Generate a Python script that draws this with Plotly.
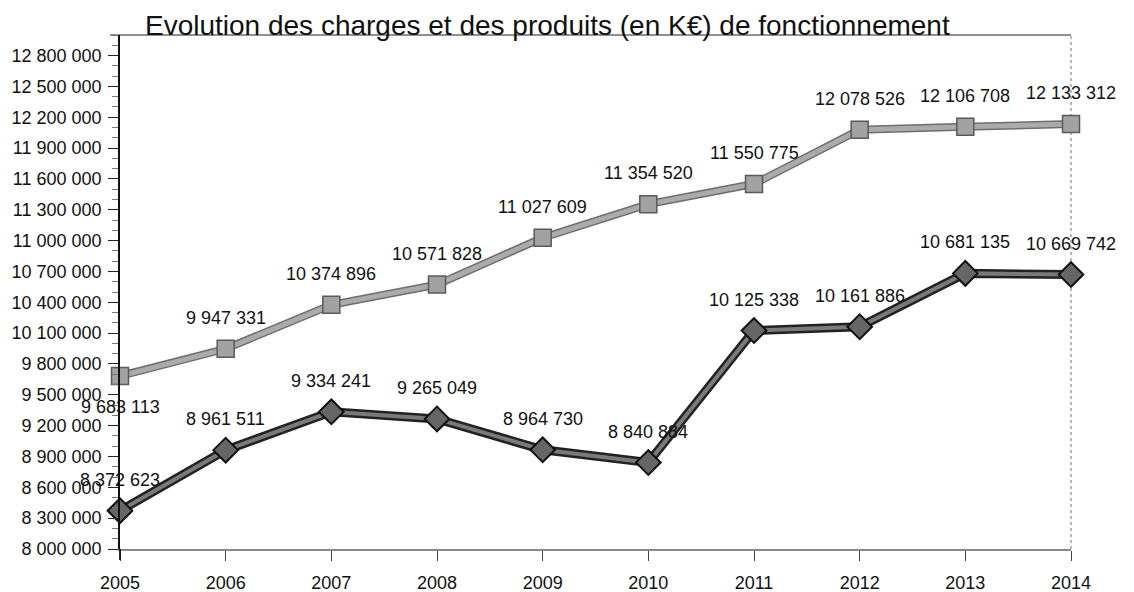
import plotly.graph_objects as go

years = [2005, 2006, 2007, 2008, 2009, 2010, 2011, 2012, 2013, 2014]
produits = [9683113, 9947331, 10374896, 10571828, 11027609, 11354520, 11550775, 12078526, 12106708, 12133312]
charges = [8372623, 8961511, 9334241, 9265049, 8964730, 8840884, 10125338, 10161886, 10681135, 10669742]
title_text = "Evolution des charges et des produits (en K€) de fonctionnement"

FONT = "Liberation Sans, Arial, sans-serif"
FS = 18


def fmt(v):
    return f"{v:,}".replace(",", " ")


fig = go.Figure()

# upper series (produits): outline then fill
fig.add_trace(go.Scatter(x=years, y=produits, mode="lines", line=dict(color="#6e6e6e", width=8),
                         hoverinfo="skip", showlegend=False, cliponaxis=False))
fig.add_trace(go.Scatter(x=years, y=produits, mode="lines+markers",
                         line=dict(color="#ababab", width=5),
                         marker=dict(symbol="square", size=17, color="#a2a2a2",
                                     line=dict(color="#5a5a5a", width=1.5)),
                         name="Produits", showlegend=False, cliponaxis=False))

# lower series (charges)
fig.add_trace(go.Scatter(x=years, y=charges, mode="lines", line=dict(color="#222222", width=9),
                         hoverinfo="skip", showlegend=False, cliponaxis=False))
fig.add_trace(go.Scatter(x=years, y=charges, mode="lines+markers",
                         line=dict(color="#7a7a7a", width=4),
                         marker=dict(symbol="diamond", size=19, color="#666666",
                                     line=dict(color="#111111", width=2)),
                         name="Charges", showlegend=False, cliponaxis=False))

annotations = []
for i, (x, y) in enumerate(zip(years, produits)):
    annotations.append(dict(x=x, y=y, xref="x", yref="y", text=fmt(y), showarrow=False,
                            yshift=-31 if i == 0 else 31,
                            font=dict(family=FONT, size=FS, color="#111111")))
for x, y in zip(years, charges):
    annotations.append(dict(x=x, y=y, xref="x", yref="y", text=fmt(y), showarrow=False,
                            yshift=31, font=dict(family=FONT, size=FS, color="#111111")))

# title sitting on the top frame line
annotations.append(dict(x=(143 - 120) / (1071 - 120), xref="paper", y=1, yref="paper",
                        text=title_text, showarrow=False, xanchor="left", yanchor="bottom",
                        yshift=-8, font=dict(family=FONT, size=28, color="#111111")))

shapes = [
    # top frame line
    dict(type="line", xref="paper", yref="paper", x0=-10 / 951, x1=1, y0=1, y1=1,
         line=dict(color="#222222", width=1.2), layer="below"),
    # right frame line
    dict(type="line", xref="paper", yref="paper", x0=1, x1=1, y0=0, y1=1,
         line=dict(color="#888888", width=1.2, dash="dot"), layer="below"),
    # left axis extends below x axis
    dict(type="line", xref="paper", yref="paper", x0=0, x1=0, y0=-11 / 514, y1=0,
         line=dict(color="#111111", width=1.8)),
]

fig.update_layout(
    width=1126, height=584,
    margin=dict(l=112, r=63, t=27, b=43, autoexpand=False),
    paper_bgcolor="white", plot_bgcolor="white",
    separators=", ",
    font=dict(family=FONT, size=FS, color="#111111"),
    annotations=annotations,
    shapes=shapes,
    showlegend=False,
)

fig.update_xaxes(range=[2005, 2014], tickmode="array", tickvals=years,
                 ticktext=[str(y) for y in years], automargin=False,
                 showgrid=False, zeroline=False, showline=True, linecolor="#8a8a8a", linewidth=2,
                 ticks="outside", ticklen=10, tickcolor="#444444", tickwidth=1,
                 ticklabelstandoff=6,
                 tickfont=dict(family=FONT, size=FS, color="#111111"))
fig.update_yaxes(range=[8000000, 13000000], tick0=8000000, dtick=300000, tickformat=",d",
                 automargin=False,
                 showgrid=False, zeroline=False, showline=True, linecolor="#111111", linewidth=1.8,
                 ticks="outside", ticklen=10, tickcolor="#222222", tickwidth=1.2,
                 minor=dict(dtick=100000, tick0=8000000, ticks="outside", ticklen=6,
                            tickcolor="#777777", tickwidth=1),
                 ticklabelstandoff=3,
                 tickfont=dict(family=FONT, size=FS, color="#111111"))

fig.write_html("out.html")
